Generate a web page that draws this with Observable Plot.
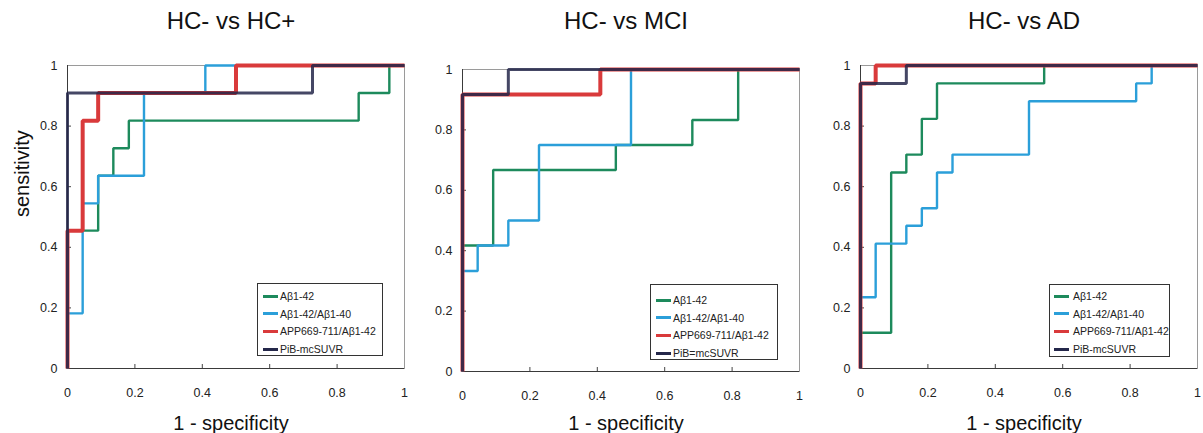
<!DOCTYPE html>
<html><head><meta charset="utf-8">
<script src="https://cdn.jsdelivr.net/npm/d3@7"></script>
<script src="https://cdn.jsdelivr.net/npm/@observablehq/plot@0.6"></script>
<style>
body{margin:0;background:#fff;}
#wrap{position:relative;width:1203px;height:433px;overflow:hidden;font-family:"Liberation Sans",Arial,Helvetica,sans-serif;}
.panel{position:absolute;top:0;}
.legend{position:absolute;border:1px solid #333;background:#fff;box-sizing:border-box;}
.legend .row{position:absolute;left:0;height:14px;display:flex;align-items:center;font-size:10.5px;color:#222;white-space:nowrap;}
.legend .sw{display:inline-block;width:15px;height:3px;}
</style></head><body><div id="wrap"></div>
<script>
// ---------- data ----------
const seriesNames = ["Aβ1-42", "Aβ1-42/Aβ1-40", "APP669-711/Aβ1-42", "PiB-mcSUVR"];
const legendNamesMCI = ["Aβ1-42", "Aβ1-42/Aβ1-40", "APP669-711/Aβ1-42", "PiB=mcSUVR"];
const panelTitles = ["HC- vs HC+", "HC- vs MCI", "HC- vs AD"];
const xTicks = [0, 0.2, 0.4, 0.6, 0.8, 1];
const yTicks = [0, 0.2, 0.4, 0.6, 0.8, 1];
const innerTicks = [0.2, 0.4, 0.6, 0.8];

// HC- vs HC+  (1-specificity, sensitivity) corner points
const hcp_ab42_x  = [0, 0.091, 0.136, 0.182, 0.864, 0.955, 1];
const hcp_ab42_y  = [0, 0.455, 0.636, 0.727, 0.818, 0.909, 1];
const hcp_ratio_x = [0, 0.045, 0.091, 0.227, 0.409, 1];
const hcp_ratio_y = [0, 0.182, 0.545, 0.636, 0.909, 1];
const hcp_app_x   = [0, 0.045, 0.091, 0.5, 1];
const hcp_app_y   = [0, 0.455, 0.818, 0.909, 1];
const hcp_pib_x   = [0, 0.727, 1];
const hcp_pib_y   = [0, 0.909, 1];

// HC- vs MCI
const mci_ab42_x  = [0, 0.091, 0.455, 0.682, 0.818, 1];
const mci_ab42_y  = [0, 0.417, 0.667, 0.75, 0.833, 1];
const mci_ratio_x = [0, 0.045, 0.136, 0.227, 0.5, 1];
const mci_ratio_y = [0, 0.333, 0.417, 0.5, 0.75, 1];
const mci_app_x   = [0, 0.409, 1];
const mci_app_y   = [0, 0.917, 1];
const mci_pib_x   = [0, 0.136, 1];
const mci_pib_y   = [0, 0.917, 1];

// HC- vs AD
const ad_ab42_x  = [0, 0.091, 0.136, 0.182, 0.227, 0.545, 1];
const ad_ab42_y  = [0, 0.118, 0.647, 0.706, 0.824, 0.941, 1];
const ad_ratio_x = [0, 0.045, 0.136, 0.182, 0.227, 0.273, 0.5, 0.818, 0.864, 1];
const ad_ratio_y = [0, 0.235, 0.412, 0.471, 0.529, 0.647, 0.706, 0.882, 0.941, 1];
const ad_app_x   = [0, 0.045, 1];
const ad_app_y   = [0, 0.941, 1];
const ad_pib_x   = [0, 0.136, 1];
const ad_pib_y   = [0, 0.941, 1];

// ---------- styling ----------
const seriesColors = ["#1d8a5c", "#2b9fd9", "#d93a3b", "#24274a"];
const seriesWidths = [2.4, 2.4, 4, 3];
const seriesOpacity = [1, 1, 1, 0.85];

function rowsOf(xs, ys) { return xs.map((x, i) => ({x, y: ys[i]})); }

const panels = [
  {title: panelTitles[0], legend: seriesNames, ylabel: true,
   series: [[hcp_ab42_x, hcp_ab42_y], [hcp_ratio_x, hcp_ratio_y], [hcp_app_x, hcp_app_y], [hcp_pib_x, hcp_pib_y]],
   left: 0, width: 420, mL: 67, mR: 16, mT: 65, mB: 65,
   lg: {left: 257, top: 283, w: 126, h: 73, r0: 12, sw: 5, tx: 22}},
  {title: panelTitles[1], legend: legendNamesMCI, ylabel: false,
   series: [[mci_ab42_x, mci_ab42_y], [mci_ratio_x, mci_ratio_y], [mci_app_x, mci_app_y], [mci_pib_x, mci_pib_y]],
   left: 420, width: 400, mL: 42, mR: 21, mT: 69, mB: 62,
   lg: {left: 650, top: 284, w: 128, h: 76, r0: 15, sw: 5, tx: 22}},
  {title: panelTitles[2], legend: seriesNames, ylabel: false,
   series: [[ad_ab42_x, ad_ab42_y], [ad_ratio_x, ad_ratio_y], [ad_app_x, ad_app_y], [ad_pib_x, ad_pib_y]],
   left: 820, width: 383, mL: 40, mR: 6, mT: 65, mB: 65,
   lg: {left: 1049, top: 284, w: 121, h: 73, r0: 11, sw: 4, tx: 23}}
];

const wrap = document.getElementById("wrap");
const H = 433;

panels.forEach((p) => {
  const plotW = p.width - p.mL - p.mR;
  const plotH = H - p.mT - p.mB;
  const marks = [
    Plot.frame({stroke: "#9a9a9a", strokeWidth: 1}),
    Plot.ruleY([0], {stroke: "#3a3a3a", strokeWidth: 1}),
    Plot.ruleX([0], {stroke: "#3a3a3a", strokeWidth: 1}),
    Plot.ruleX(innerTicks, {x: d => d, y1: 0, y2: 4 / plotH, stroke: "#444"}),
    Plot.ruleY(innerTicks, {y: d => d, x1: 0, x2: 4 / plotW, stroke: "#444"}),
    Plot.axisX({ticks: xTicks, tickSize: 0, tickPadding: 20, tickFormat: d => String(d), label: null, fill: "#222"}),
    Plot.axisY({ticks: yTicks, tickSize: 0, tickPadding: 10, tickFormat: d => String(d), label: null, fill: "#222"})
  ];
  p.series.forEach(([xs, ys], i) => {
    marks.push(Plot.line(rowsOf(xs, ys), {
      x: "x", y: "y", curve: "step-before",
      stroke: seriesColors[i], strokeWidth: seriesWidths[i], strokeOpacity: seriesOpacity[i],
      strokeLinejoin: "miter", strokeLinecap: "butt"
    }));
  });
  marks.push(Plot.text([p.title], {text: d => d, frameAnchor: "top", lineAnchor: "bottom",
    dy: 28 - p.mT, dx: -5, fontSize: 24, fill: "#111"}));
  marks.push(Plot.text(["1 - specificity"], {text: d => d, frameAnchor: "bottom", lineAnchor: "bottom",
    dy: 429 - (H - p.mB), dx: -5, fontSize: 20, fill: "#111"}));
  if (p.ylabel) {
    marks.push(Plot.text(["sensitivity"], {text: d => d, frameAnchor: "left", lineAnchor: "bottom",
      rotate: -90, dx: 28 - p.mL, fontSize: 20, fill: "#111"}));
  }
  const svg = Plot.plot({
    width: p.width, height: H,
    marginLeft: p.mL, marginRight: p.mR, marginTop: p.mT, marginBottom: p.mB,
    x: {domain: [0, 1], label: null},
    y: {domain: [0, 1], label: null},
    style: {fontFamily: "'Liberation Sans', Arial, sans-serif", fontSize: "12.5px", background: "transparent", overflow: "visible", color: "#222"},
    marks
  });
  svg.classList.add("panel");
  svg.style.left = p.left + "px";
  svg.style.position = "absolute";
  svg.style.top = "0px";
  wrap.appendChild(svg);

  // legend box
  const lg = document.createElement("div");
  lg.className = "legend";
  Object.assign(lg.style, {left: p.lg.left + "px", top: p.lg.top + "px", width: p.lg.w + "px", height: p.lg.h + "px"});
  p.legend.forEach((name, i) => {
    const row = document.createElement("div");
    row.className = "row";
    row.style.top = (p.lg.r0 + i * 17.7 - 7) + "px";
    const sw = document.createElement("span");
    sw.className = "sw";
    sw.style.background = seriesColors[i];
    sw.style.marginLeft = p.lg.sw + "px";
    sw.style.marginRight = (p.lg.tx - p.lg.sw - 15) + "px";
    row.appendChild(sw);
    const t = document.createElement("span");
    t.textContent = name;
    row.appendChild(t);
    lg.appendChild(row);
  });
  wrap.appendChild(lg);
});
</script></body></html>
